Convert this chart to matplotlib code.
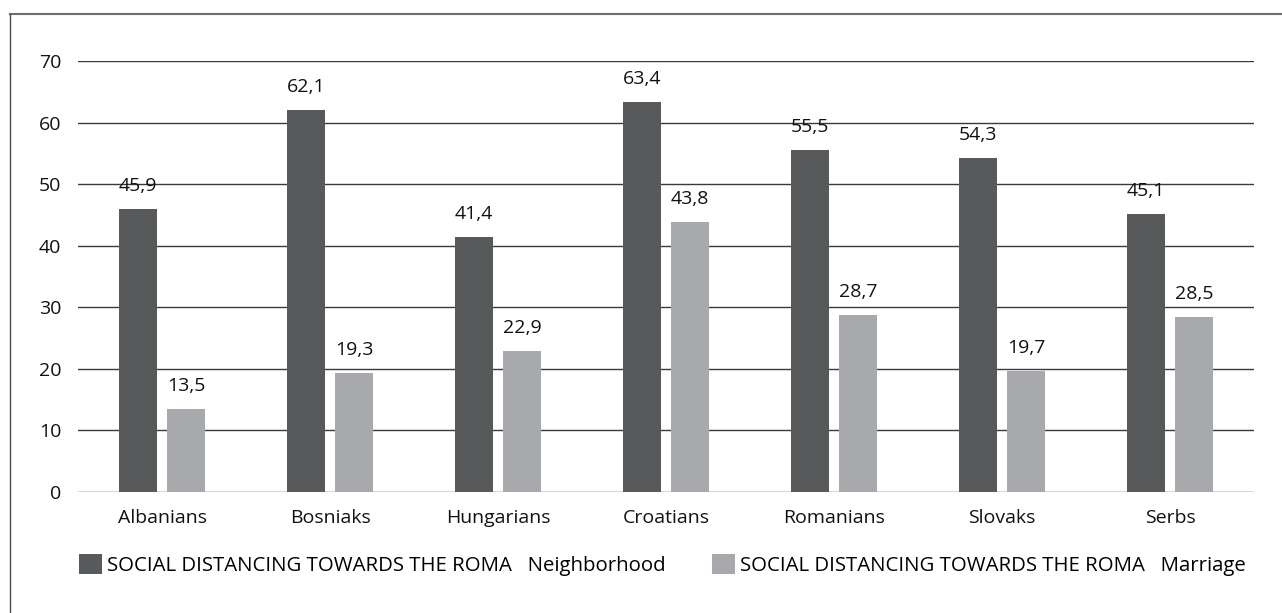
import numpy as np
import matplotlib.pyplot as plt
from matplotlib.patches import Patch
from matplotlib.lines import Line2D

plt.rcParams['font.family'] = ['Open Sans', 'DejaVu Sans']

groups = ['Albanians', 'Bosniaks', 'Hungarians', 'Croatians', 'Romanians', 'Slovaks', 'Serbs']
neighborhood = [45.9, 62.1, 41.4, 63.4, 55.5, 54.3, 45.1]
marriage = [13.5, 19.3, 22.9, 43.8, 28.7, 19.7, 28.5]
series_names = ['SOCIAL DISTANCING TOWARDS THE ROMA   Neighborhood',
                'SOCIAL DISTANCING TOWARDS THE ROMA   Marriage']

dark = '#58595b'
light = '#a7a9ac'
fs = 14

fig = plt.figure(figsize=(12.82, 6.13), dpi=100)
ax = fig.add_axes([78/1282, 1 - 492/613, 1176/1282, 431/613])

x = np.arange(len(groups))
w = 0.226
off = 0.143
b1 = ax.bar(x - off, neighborhood, w, color=dark, zorder=3)
b2 = ax.bar(x + off, marriage, w, color=light, zorder=3)

fmt = lambda v: f'{v:.1f}'.replace('.', ',')
ax.bar_label(b1, labels=[fmt(v) for v in neighborhood], padding=10, fontsize=fs, color='#111111')
ax.bar_label(b2, labels=[fmt(v) for v in marriage], padding=10, fontsize=fs, color='#111111')

ax.set_xlim(-0.5, len(groups) - 0.5)
ax.set_ylim(0, 70)
ax.set_yticks(range(0, 71, 10))
ax.set_xticks(x)
ax.set_xticklabels(groups)
ax.tick_params(axis='both', length=0, labelsize=fs, colors='#111111')
ax.tick_params(axis='y', pad=12)
ax.tick_params(axis='x', pad=12)
ax.yaxis.grid(True, color='#3a3a3a', linewidth=1)
ax.set_axisbelow(True)
for s in ax.spines.values():
    s.set_visible(False)

handles = [Patch(facecolor=dark), Patch(facecolor=light)]
fig.legend(handles, series_names, loc='upper left', bbox_to_anchor=(71/1282, 1 - 546/613),
           ncol=2, frameon=False, fontsize=14.7, handlelength=1.1, handleheight=1.1,
           handletextpad=0.25, columnspacing=2.3, borderaxespad=0)

# frame around the figure (top and left edges)
fig.add_artist(Line2D([9.5/1282, 1], [1 - 13.5/613] * 2, color='#6e6e6e', linewidth=1.5))
fig.add_artist(Line2D([9.5/1282] * 2, [0, 1 - 13.5/613], color='#4a4a4a', linewidth=1))

fig.savefig('out.png', dpi=100)
